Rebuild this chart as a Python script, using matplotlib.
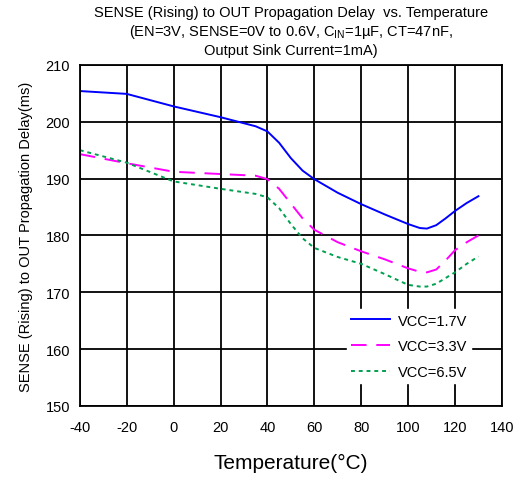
import matplotlib
matplotlib.use("Agg")
import matplotlib.pyplot as plt

plt.rcParams['font.family'] = ['Liberation Sans', 'DejaVu Sans']
plt.rcParams['mathtext.default'] = 'regular'
plt.rcParams['axes.unicode_minus'] = False

# data
temp = [-40, -20, 0, 20, 35, 40, 45, 50, 55, 60, 70, 80, 90, 100, 105, 108, 112, 116, 120, 125, 130]
vcc_17 = [205.4, 204.9, 202.7, 200.8, 199.2, 198.3, 196.3, 193.6, 191.4, 189.9, 187.5, 185.5, 183.7, 182.0, 181.3, 181.2, 181.8, 183.0, 184.3, 185.7, 186.9]
vcc_33 = [194.3, 192.7, 191.2, 190.8, 190.5, 189.9, 188.2, 185.6, 183.0, 181.0, 178.8, 177.2, 175.8, 174.2, 173.6, 173.5, 174.0, 175.6, 177.4, 178.8, 180.0]
vcc_65 = [195.0, 192.8, 189.5, 188.2, 187.3, 186.7, 184.8, 182.0, 179.5, 177.8, 176.2, 175.0, 173.2, 171.3, 171.0, 171.0, 171.5, 172.5, 173.5, 175.0, 176.3]

fig = plt.figure(figsize=(5.25, 4.81), dpi=100)
ax = fig.add_axes([0.152, 0.154, 0.804, 0.709])

ax.plot(temp, vcc_17, color='#0000ff', lw=1.4, label='VCC=1.7V')
ax.plot(temp, vcc_33, color='#ff00ff', lw=1.4, dashes=(8, 5), label='VCC=3.3V')
ax.plot(temp, vcc_65, color='#00a050', lw=1.4, dashes=(2, 2), label='VCC=6.5V')

ax.set_xlim(-40, 140)
ax.set_ylim(150, 210)
ax.set_xticks(range(-40, 141, 20))
ax.set_yticks(range(150, 211, 10))
ax.grid(True, color='black', lw=1.3)
ax.set_axisbelow(True)
ax.tick_params(length=0, labelsize=10.5)
ax.tick_params(axis='x', pad=10)
ax.tick_params(axis='y', pad=7)
for s in ax.spines.values():
    s.set_linewidth(1.3)

ax.set_xlabel('Temperature(°C)', fontsize=15, labelpad=14)
ax.set_ylabel('SENSE (Rising) to OUT Propagation Delay(ms)', fontsize=10.5, labelpad=9)
ax.set_title('SENSE (Rising) to OUT Propagation Delay  vs. Temperature\n'
             '(EN=3V, SENSE=0V to 0.6V, C$_{IN}$=1µF, CT=47nF,\n'
             'Output Sink Current=1mA)', fontsize=10.5, pad=8, linespacing=1.25)

leg = ax.legend(loc='lower right', bbox_to_anchor=(0.945, 0.045), frameon=True,
                fontsize=10.5, handlelength=2.7, fancybox=False, borderpad=0.3,
                labelspacing=0.8, handletextpad=0.5)
leg.get_frame().set_edgecolor('white')
leg.get_frame().set_alpha(1)

fig.savefig('out.png', dpi=100)
